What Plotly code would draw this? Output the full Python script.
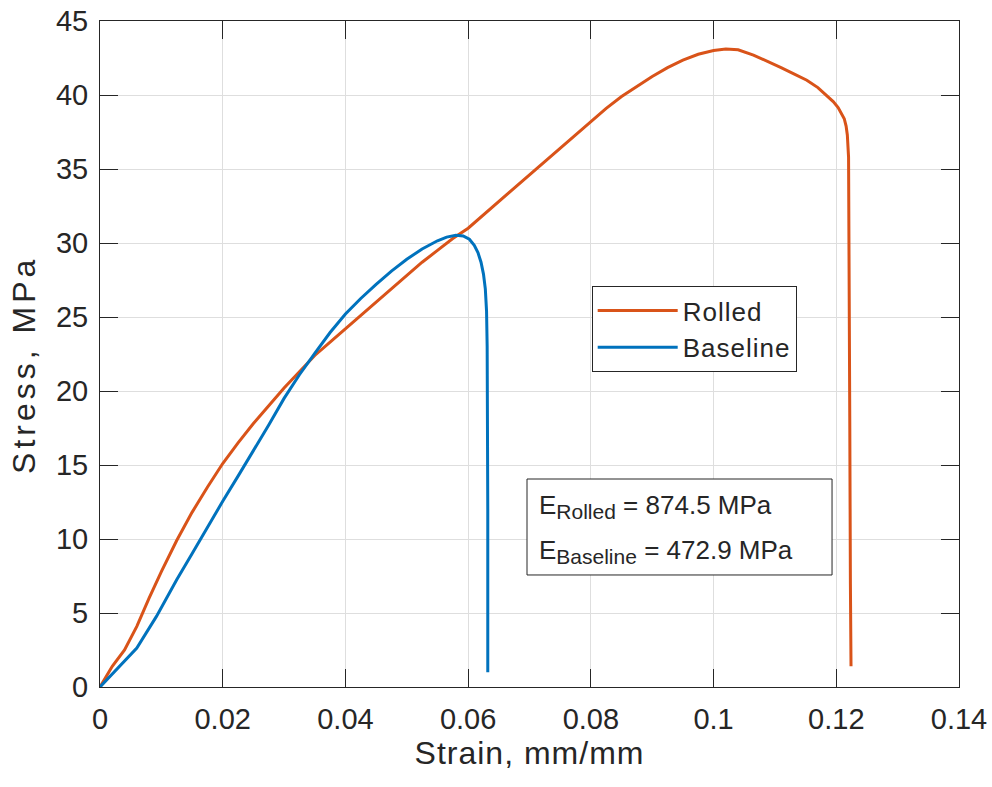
import plotly.graph_objects as go

# Engineering stress-strain curves for the two specimen types
rolled_strain = [0.0, 0.0020, 0.0040, 0.0060, 0.0080, 0.0100, 0.0125, 0.0150, 0.0175,
                 0.0200, 0.0225, 0.0250, 0.0275, 0.0300, 0.0325, 0.0350, 0.0375,
                 0.0400, 0.0425, 0.0450, 0.0475, 0.0500, 0.0525, 0.0550, 0.0575,
                 0.0600, 0.0625, 0.0650, 0.0675, 0.0700, 0.0725, 0.0750, 0.0775,
                 0.0800, 0.0825, 0.0850, 0.0875, 0.0900, 0.0925, 0.0950, 0.0975,
                 0.1000, 0.1020, 0.1040, 0.1065, 0.1090, 0.1110, 0.1130, 0.1152,
                 0.1170, 0.1184, 0.1195, 0.1203, 0.1209, 0.1213, 0.1216, 0.1218,
                 0.1220, 0.1221, 0.1222, 0.1223, 0.1224]
rolled_stress = [0.0, 1.40, 2.50, 4.10, 6.00, 7.80, 9.90, 11.80, 13.50,
                 15.10, 16.50, 17.80, 19.00, 20.20, 21.30, 22.40, 23.30,
                 24.20, 25.10, 26.00, 26.90, 27.80, 28.70, 29.50, 30.30,
                 31.00, 31.90, 32.80, 33.70, 34.60, 35.50, 36.40, 37.30,
                 38.20, 39.10, 39.90, 40.60, 41.25, 41.85, 42.35, 42.75,
                 43.00, 43.10, 43.05, 42.70, 42.25, 41.85, 41.45, 41.00,
                 40.50, 40.00, 39.55, 39.15, 38.75, 38.40, 37.90, 37.30,
                 35.80, 30.00, 18.00, 7.00, 1.40]

baseline_strain = [0.0, 0.0027, 0.0060, 0.0092, 0.0125, 0.0150, 0.0175, 0.0200,
                   0.0225, 0.0250, 0.0275, 0.0300, 0.0325, 0.0350, 0.0375, 0.0400,
                   0.0425, 0.0450, 0.0475, 0.0500, 0.0525, 0.0550, 0.0565, 0.0580,
                   0.0592, 0.0602, 0.0610, 0.0616, 0.0621, 0.0625, 0.0628, 0.0630,
                   0.0631, 0.0632, 0.0632]
baseline_stress = [0.0, 1.17, 2.63, 4.77, 7.25, 9.00, 10.80, 12.55,
                   14.25, 15.95, 17.70, 19.50, 21.10, 22.55, 23.95, 25.20,
                   26.25, 27.20, 28.10, 28.90, 29.60, 30.15, 30.40, 30.52,
                   30.48, 30.25, 29.85, 29.35, 28.70, 27.90, 26.90, 25.40,
                   23.00, 12.00, 1.00]

modulus_rolled = 874.5
modulus_baseline = 472.9

x_ticks = [0, 0.02, 0.04, 0.06, 0.08, 0.1, 0.12, 0.14]
x_tick_text = ["0", "0.02", "0.04", "0.06", "0.08", "0.1", "0.12", "0.14"]
y_ticks = [0, 5, 10, 15, 20, 25, 30, 35, 40, 45]

ORANGE = "#D95319"
BLUE = "#0072BD"
INK = "#262626"
FONT = "Liberation Sans, Arial, sans-serif"


def spaced(text, px):
    return f'<span style="letter-spacing:{px}px">{text}</span>'


fig = go.Figure()
fig.add_trace(go.Scatter(x=rolled_strain, y=rolled_stress, mode="lines", name=spaced("Rolled", 1),
                         line=dict(color=ORANGE, width=3)))
fig.add_trace(go.Scatter(x=baseline_strain, y=baseline_stress, mode="lines", name=spaced("Baseline", 1),
                         line=dict(color=BLUE, width=3)))

axis_common = dict(
    showline=True, linecolor=INK, linewidth=1, mirror="ticks",
    ticks="inside", ticklen=18, tickwidth=1, tickcolor=INK,
    showgrid=True, gridcolor="#dedede", gridwidth=1,
    zeroline=False, automargin=False,
    tickfont=dict(family=FONT, size=29, color=INK),
)

fig.update_xaxes(range=[0, 0.14], tickvals=x_ticks, ticktext=x_tick_text,
                 ticklabelstandoff=6,
                 title=dict(text=spaced("Strain, mm/mm", 1),
                            font=dict(family=FONT, size=32, color=INK), standoff=4),
                 **axis_common)
fig.update_yaxes(range=[0, 45], tickvals=y_ticks, ticklabelstandoff=5, **axis_common)

# y-axis label, placed beside the tick labels
fig.add_annotation(xref="paper", yref="paper", x=-0.0885, y=0.4835,
                   xanchor="center", yanchor="middle", textangle=-90, showarrow=False,
                   text=spaced("Stress, MPa", 4),
                   font=dict(family=FONT, size=32, color=INK))

# Modulus text box
fig.add_shape(type="rect", xref="paper", yref="paper",
              x0=0.4971, x1=0.8522, y0=0.1682, y1=0.3123,
              line=dict(color=INK, width=1), fillcolor="white", layer="above")
sub_open = '<sub><span style="font-size:21px">'
sub_close = '</span></sub>'
for label, value, ypos in [("Rolled", modulus_rolled, 0.2703),
                           ("Baseline", modulus_baseline, 0.2042)]:
    fig.add_annotation(xref="paper", yref="paper", x=0.5087, y=ypos,
                       xanchor="left", yanchor="middle", showarrow=False, align="left",
                       text=f"E{sub_open}{label}{sub_close} = {value} MPa",
                       font=dict(family=FONT, size=26, color=INK))

fig.update_layout(
    width=992, height=787,
    margin=dict(l=100, r=33, t=21, b=100),
    paper_bgcolor="white", plot_bgcolor="white",
    font=dict(family=FONT, color=INK),
    legend=dict(x=0.5724, y=0.602, xanchor="left", yanchor="top",
                bordercolor=INK, borderwidth=1, bgcolor="white",
                font=dict(family=FONT, size=26, color=INK),
                itemwidth=80, tracegroupgap=0),
)

fig.write_html("out.html")
